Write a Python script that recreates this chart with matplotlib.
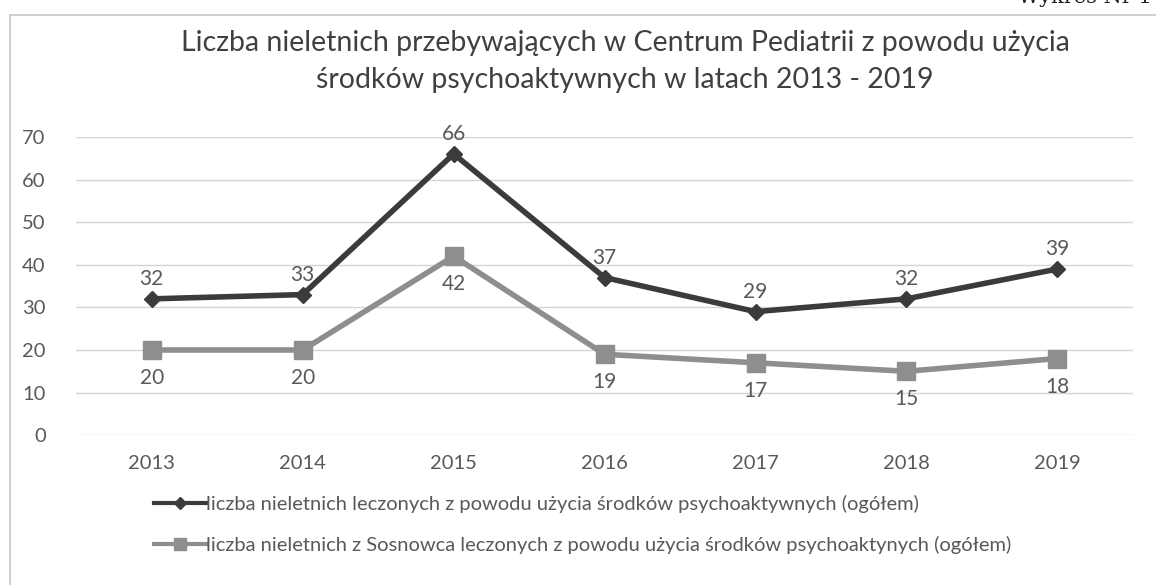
from matplotlib import pyplot as plt
from matplotlib.lines import Line2D
from matplotlib.patches import Rectangle

plt.rcParams['font.family'] = ['Lato', 'DejaVu Sans']

years = ['2013', '2014', '2015', '2016', '2017', '2018', '2019']
ogolem = [32, 33, 66, 37, 29, 32, 39]
sosnowiec = [20, 20, 42, 19, 17, 15, 18]
series_names = [
    'liczba nieletnich leczonych z powodu użycia środków psychoaktywnych (ogółem)',
    'liczba nieletnich z Sosnowca leczonych z powodu użycia środków psychoaktynych (ogółem)',
]

dark = '#3b3b3b'
light = '#8e8e8e'
txt = '#595959'

fig = plt.figure(figsize=(11.56, 5.85), dpi=100)
fig.patches.append(Rectangle((10 / 1156, -0.1), 1.2, 1.1 - 15 / 585, transform=fig.transFigure,
                             fill=False, edgecolor='#c8c8c8', lw=1.2))
fig.text(1018 / 1156, 1.004, 'Wykres Nr 14', family='DejaVu Serif', fontsize=15, color='#222222',
         ha='left', va='center')

ax = fig.add_axes((0.066, 0.256, 0.914, 0.510))
x = range(len(years))
ax.plot(x, ogolem, color=dark, lw=4, marker='D', ms=8.5, zorder=3)
ax.plot(x, sosnowiec, color=light, lw=4, marker='s', ms=13, zorder=3)

for i, v in enumerate(ogolem):
    ax.annotate(str(v), (i, v), xytext=(0, 7), textcoords='offset points', ha='center', va='bottom',
                fontsize=15, color=txt)
for i, v in enumerate(sosnowiec):
    ax.annotate(str(v), (i, v), xytext=(0, -13), textcoords='offset points', ha='center', va='top',
                fontsize=15, color=txt)

ax.set_xlim(-0.5, 6.5)
ax.set_ylim(0, 70)
ax.set_yticks(range(0, 71, 10))
ax.set_xticks(list(x))
ax.set_xticklabels(years)
ax.grid(axis='y', color='#d4d4d4', lw=1)
ax.set_axisbelow(True)
for s in ax.spines.values():
    s.set_visible(False)
ax.tick_params(length=0, labelsize=14.5, colors=txt, pad=14)
ax.tick_params(axis='y', pad=22)

fig.text(625 / 1156, 1 - 43 / 585, 'Liczba nieletnich przebywających w Centrum Pediatrii z powodu użycia',
         ha='center', va='center', fontsize=20.5, color='#404040')
fig.text(625 / 1156, 1 - 80 / 585, 'środków psychoaktywnych w latach 2013 - 2019',
         ha='center', va='center', fontsize=20.5, color='#404040')

handles = [Line2D([], [], color=dark, lw=3, marker='D', ms=6),
           Line2D([], [], color=light, lw=3, marker='s', ms=8)]
fig.legend(handles, series_names, loc='upper left', bbox_to_anchor=(144 / 1156, 1 - 485 / 585),
           frameon=False, fontsize=14.5, labelcolor=txt, handlelength=2.6, handletextpad=0.0,
           labelspacing=1.15, borderpad=0)

fig.savefig('out.png', dpi=100)
